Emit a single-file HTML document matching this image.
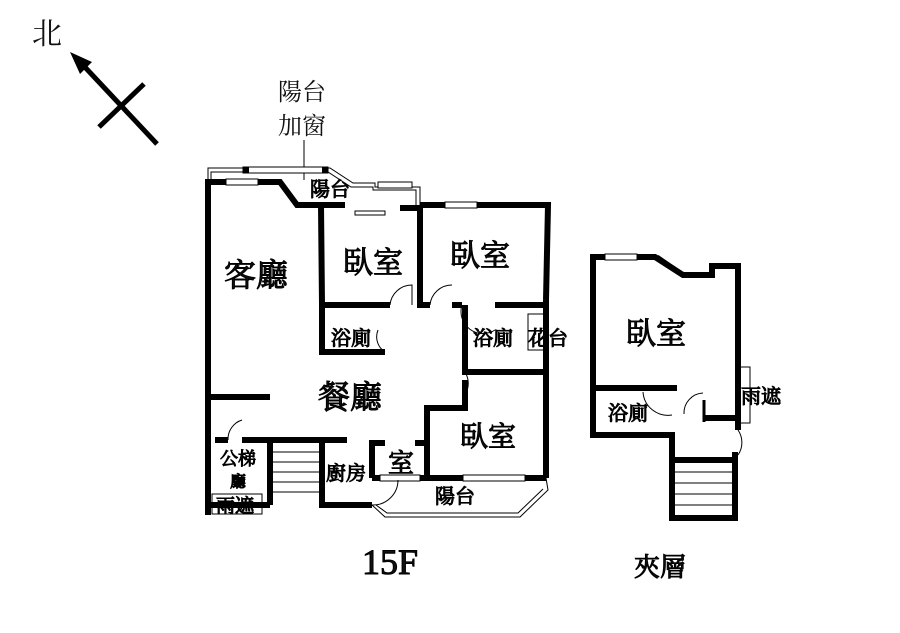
<!DOCTYPE html>
<html><head><meta charset="utf-8"><style>
html,body{margin:0;padding:0;background:#fff}
svg{display:block}
text{font-family:"Liberation Serif","Noto Serif CJK SC","Noto Sans CJK TC",serif;fill:#111}
</style></head><body>
<svg width="900" height="633" viewBox="0 0 900 633" xmlns="http://www.w3.org/2000/svg">
<rect width="900" height="633" fill="#fff"/>
<text x="32" y="44" font-size="30">北</text>
<line x1="157" y1="144" x2="82" y2="64" stroke="#000" stroke-width="5"/>
<polygon points="70,52 92,62 80,74" fill="#000"/>
<line x1="99" y1="127" x2="144" y2="84" stroke="#000" stroke-width="5"/>
<text x="278" y="100" font-size="24">陽台</text>
<text x="278" y="134" font-size="24">加窗</text>
<line x1="304" y1="140" x2="304" y2="180" stroke="#000" stroke-width="1"/>

<g fill="none" stroke="#000">
<polyline points="208,184 208,168 330,168 353,183 375,183 375,187 420,187 420,205" stroke-width="1"/>
<polyline points="211,184 211,172 328,172 351,187 373,187 373,190 416,190 416,205" stroke-width="1"/>
<rect x="243" y="167" width="85" height="6" fill="#fff" stroke-width="1"/>
<line x1="243" y1="170" x2="249" y2="170" stroke-width="6"/>
<line x1="322" y1="170" x2="328" y2="170" stroke-width="6"/>
<g stroke-width="6" stroke-linejoin="miter">
<polyline points="208,515 208,182 280,182 297,205 321,205"/>
<polyline points="321,205 322,305 390,305"/>
<polyline points="321,205 345,205"/><polyline points="400,208 421,208"/>
<polyline points="420,205 548,205 546,300"/>
<polyline points="420,205 420,305 430,305"/>
<polyline points="322,305 322,352 385,352"/>
<polyline points="452,305 462,305"/>
<polyline points="465,305 465,372 546,372 546,478"/>
<polyline points="495,305 546,305"/>
<polyline points="546,300 546,372"/>
<polyline points="465,380 465,408 427,408 427,478 546,478"/>
<polyline points="372,478 427,478"/>
<polyline points="372,478 372,443 385,443"/><polyline points="415,443 427,443"/>
<polyline points="208,397 270,397"/>
<polyline points="215,440 228,440"/><polyline points="242,440 347,440"/>
<polyline points="322,440 322,505 372,505"/>
<polyline points="208,505 270,505"/>
<polyline points="270,440 270,505"/>
</g>
<g stroke-width="1">
<line x1="272" y1="452" x2="320" y2="452"/><line x1="272" y1="462" x2="320" y2="462"/>
<line x1="272" y1="472" x2="320" y2="472"/><line x1="272" y1="482" x2="320" y2="482"/>
<line x1="272" y1="492" x2="320" y2="492"/>
<polyline points="372,505 385,517 520,517 548,490 546,478"/>
<polyline points="376,505 387,513 518,513 543,489"/>
<rect x="212" y="494" width="50" height="20"/>
<rect x="528" y="314" width="16" height="36"/>
<rect x="226" y="179" width="32" height="6" fill="#fff"/>
<rect x="378" y="182" width="34" height="6" fill="#fff"/>
<rect x="445" y="202" width="32" height="6" fill="#fff"/>
<rect x="355" y="211" width="30" height="4" fill="#fff"/>
<rect x="463" y="475" width="62" height="6" fill="#fff"/>
<rect x="380" y="475" width="40" height="6" fill="#fff"/>
<path d="M390,305 A22,22 0 0 1 412,285 L412,305"/>
<path d="M430,305 A22,22 0 0 1 452,285"/>
<path d="M462,305 A22,22 0 0 0 495,330"/>
<path d="M465,372 A22,22 0 0 1 465,395"/>
<path d="M228,440 A20,20 0 0 1 242,420"/>
<path d="M385,352 A18,18 0 0 1 378,330"/>
<path d="M372,505 A25,25 0 0 0 398,480"/>
</g>

<g stroke-width="6">
<polyline points="593,438 593,257 655,257 683,275 712,275 712,266 738,266 738,430"/>
<polyline points="593,388 677,388"/>
<polyline points="593,435 672,435 672,518 735,518 735,452"/>
<polyline points="672,460 735,460"/>
<polyline points="703,418 738,418"/>
<line x1="704" y1="400" x2="704" y2="422" stroke-width="3"/>
</g>
<g fill="none" stroke="#000" stroke-width="1">
<rect x="605" y="254" width="32" height="6" fill="#fff"/>
<line x1="657" y1="257" x2="683" y2="275" stroke-width="5"/>
<line x1="674" y1="472" x2="733" y2="472"/><line x1="674" y1="483" x2="733" y2="483"/>
<line x1="674" y1="494" x2="733" y2="494"/><line x1="674" y1="505" x2="733" y2="505"/>
<rect x="740" y="367" width="10" height="56"/>
<path d="M643,392 A25,25 0 0 0 672,415"/>
<path d="M684,414 A20,20 0 0 1 703,393"/>
<path d="M738,430 A22,22 0 0 1 738,455"/>
</g>

<text x="224" y="286" font-size="32">客廳</text>
<text x="343" y="273" font-size="30">臥室</text>
<text x="450" y="266" font-size="30">臥室</text>
<text x="331" y="345" font-size="20">浴廁</text>
<text x="473" y="345" font-size="20">浴廁</text>
<text x="528" y="345" font-size="20">花台</text>
<text x="318" y="408" font-size="32">餐廳</text>
<text x="460" y="446" font-size="28">臥室</text>
<text x="310" y="196" font-size="20">陽台</text>
<text x="220" y="465" font-size="18">公梯</text>
<text x="230" y="487" font-size="16">廳</text>
<text x="216" y="512" font-size="19">雨遮</text>
<text x="326" y="480" font-size="20">廚房</text>
<text x="388" y="472" font-size="26">室</text>
<text x="435" y="503" font-size="20">陽台</text>
<text x="362" y="574" font-size="36">15F</text>
<text x="626" y="344" font-size="30">臥室</text>
<text x="608" y="420" font-size="20">浴廁</text>
<text x="741" y="403" font-size="20">雨遮</text>
<text x="634" y="576" font-size="26">夾層</text>
</svg>
</body></html>
